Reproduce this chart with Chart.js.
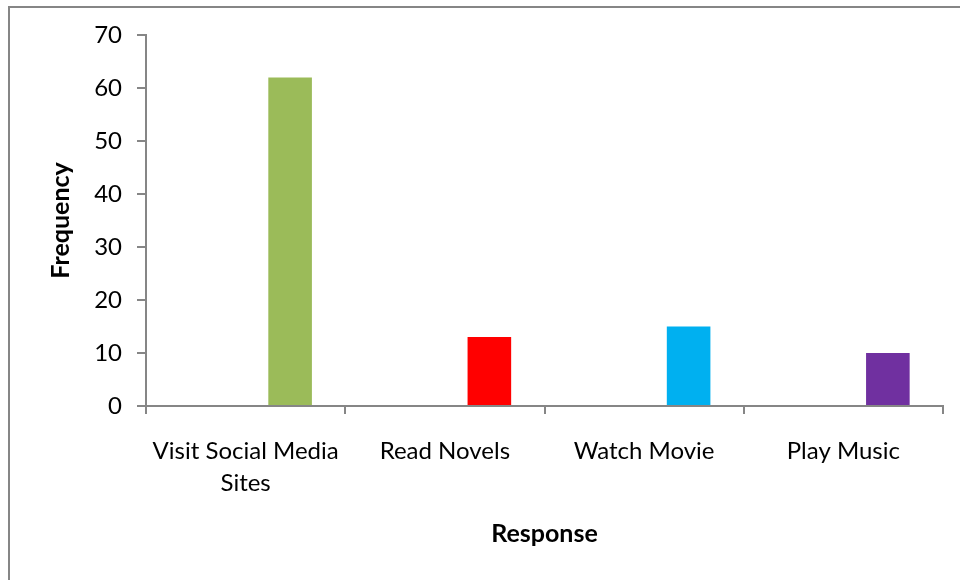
<!DOCTYPE html>
<html>
<head>
<meta charset="utf-8">
<script src="https://cdn.jsdelivr.net/npm/chart.js@4/dist/chart.umd.min.js"></script>
<style>
  html, body { margin: 0; padding: 0; background: #fff; }
  #wrap { position: relative; width: 960px; height: 580px; overflow: hidden; }
  #frame {
    position: absolute; left: 8px; top: 6px; width: 980px; height: 600px;
    border-left: 2px solid #868686; border-top: 2px solid #868686;
    pointer-events: none;
  }
</style>
</head>
<body>
<div id="wrap">
  <canvas id="grafico" width="960" height="580"></canvas>
  <div id="frame"></div>
</div>
<script>
// Dados do gráfico
const categorias = [['Visit Social Media', 'Sites'], 'Read Novels', 'Watch Movie', 'Play Music'];
const serieVazia = [null, null, null, null];   // série em branco da planilha original
const frequencia = [62, 13, 15, 10];
const cores = ['#9BBB59', '#FF0000', '#00B0F0', '#7030A0'];
const ticksY = [0, 10, 20, 30, 40, 50, 60, 70];

const cinza = '#868686';
const fonte = 'Lato, "Open Sans", sans-serif';

const ctx = document.getElementById('grafico').getContext('2d');
new Chart(ctx, {
  type: 'bar',
  data: {
    labels: categorias,
    datasets: [
      { label: '', data: serieVazia, backgroundColor: '#ffffff' },
      { label: 'Frequency', data: frequencia, backgroundColor: cores }
    ]
  },
  options: {
    responsive: false,
    animation: false,
    categoryPercentage: 0.893,
    barPercentage: 0.49,
    layout: { padding: { left: 0, top: 35, right: 17, bottom: 0 } },
    plugins: {
      legend: { display: false },
      tooltip: { enabled: false }
    },
    scales: {
      x: {
        grid: { drawOnChartArea: false, color: cinza, lineWidth: 2, tickLength: 8, offset: true },
        border: { color: cinza, width: 2 },
        ticks: { color: '#000', font: { family: fonte, size: 24, lineHeight: 1.35 }, padding: 21, maxRotation: 0 },
        title: { display: true, text: 'Response', color: '#000', font: { family: fonte, size: 25, weight: 'bold' }, padding: { top: 0, bottom: 31 } },
        afterFit: (escala) => { escala.height = 174; }
      },
      y: {
        min: 0,
        max: 70,
        afterBuildTicks: (escala) => { escala.ticks = ticksY.map(v => ({ value: v })); },
        grid: { drawOnChartArea: false, color: cinza, lineWidth: 2, tickLength: 9 },
        border: { color: cinza, width: 2 },
        ticks: { color: '#000', font: { family: fonte, size: 24 }, padding: 15 },
        title: { display: true, text: 'Frequency', color: '#000', font: { family: fonte, size: 25, weight: 'bold' }, padding: { top: 46, bottom: 0 } },
        afterFit: (escala) => { escala.width = 146; }
      }
    }
  }
});
</script>
</body>
</html>
